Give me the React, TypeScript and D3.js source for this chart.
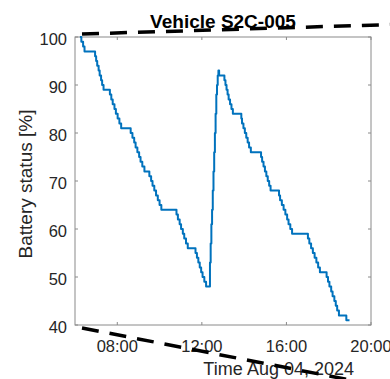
import React, { useEffect, useRef } from 'react';
import * as d3 from 'd3';

// Battery readings, Aug 04 2024
const times = [
  '06:14', '06:18', '06:23', '06:27', '06:57', '07:00', '07:03', '07:07', '07:10', '07:14',
  '07:17', '07:21', '07:39', '07:43', '07:47', '07:52', '07:56', '08:01', '08:06', '08:11',
  '08:38', '08:43', '08:48', '08:52', '08:57', '09:02', '09:06', '09:11', '09:17', '09:31',
  '09:36', '09:40', '09:45', '09:50', '09:55', '10:00', '10:05', '10:48', '10:52', '10:57',
  '11:01', '11:06', '11:10', '11:15', '11:20', '11:42', '11:46', '11:50', '11:54', '11:58',
  '12:02', '12:07', '12:12', '12:21', '12:23', '12:25', '12:27', '12:29', '12:31', '12:33',
  '12:35', '12:37', '12:39', '12:41', '12:43', '12:45', '12:47', '12:49', '13:04', '13:07',
  '13:10', '13:13', '13:16', '13:20', '13:24', '13:28', '13:33', '13:52', '13:54', '13:58',
  '14:02', '14:06', '14:10', '14:14', '14:19', '14:24', '14:48', '14:51', '14:55', '14:59',
  '15:03', '15:07', '15:11', '15:15', '15:20', '15:39', '15:42', '15:47', '15:52', '15:57',
  '16:02', '16:06', '16:11', '16:16', '16:21', '17:01', '17:05', '17:10', '17:15', '17:20',
  '17:25', '17:30', '17:35', '17:40', '17:54', '17:58', '18:02', '18:07', '18:11', '18:16',
  '18:20', '18:24', '18:29', '18:34', '18:50', '18:53', '18:59',
];
const battery = [
  100, 99, 98, 97, 96, 95, 94, 93, 92, 91,
  90, 89, 88, 87, 86, 85, 84, 83, 82, 81,
  80, 79, 78, 77, 76, 75, 74, 73, 72, 71,
  70, 69, 68, 67, 66, 65, 64, 63, 62, 61,
  60, 59, 58, 57, 56, 55, 54, 53, 52, 51,
  50, 49, 48, 48, 53, 57, 61, 64, 68, 72,
  76, 80, 84, 88, 90, 92, 93, 92, 91, 90,
  89, 88, 87, 86, 85, 84, 84, 83, 82, 81,
  80, 79, 78, 77, 76, 76, 75, 74, 73, 72,
  71, 70, 69, 68, 68, 67, 66, 65, 64, 63,
  62, 61, 60, 59, 59, 58, 57, 56, 55, 54,
  53, 52, 51, 51, 50, 49, 48, 47, 46, 45,
  44, 43, 42, 42, 41, 41, 41,
];
const timeDomain = ['06:00', '20:00'];
const yTicks = [40, 50, 60, 70, 80, 90, 100];

function App() {
  const ref = useRef<SVGSVGElement | null>(null);

  useEffect(() => {
    if (!ref.current) return;
    const W = 390, H = 379;
    const margin = { top: 37, right: 19, bottom: 54, left: 75 };
    const width = W - margin.left - margin.right,
      height = H - margin.top - margin.bottom;
    const font = '"Liberation Sans", Arial, Helvetica, sans-serif';
    const ink = '#262626';

    const parse = d3.timeParse('%H:%M');
    const data = times.map((t, i) => ({ t: parse(t) as Date, v: battery[i] }));

    const svg = d3.select(ref.current).html('');
    const g = svg.append('g').attr('transform', `translate(${margin.left},${margin.top})`);

    const x = d3.scaleTime()
      .domain(timeDomain.map(d => parse(d) as Date))
      .range([0, width]);
    const y = d3.scaleLinear().domain([40, 100]).range([height, 0]);

    // box
    g.append('rect')
      .attr('x', 0).attr('y', 0)
      .attr('width', width).attr('height', height)
      .attr('fill', 'white')
      .attr('stroke', '#8a8a8a')
      .attr('stroke-width', 1);

    // x axis (ticks inside, mirrored on top)
    const xt = x.ticks(d3.timeHour.every(4) as d3.TimeInterval);
    const fmt = d3.timeFormat('%H:%M');
    g.append('g').selectAll('line.xb').data(xt).join('line')
      .attr('x1', d => x(d)).attr('x2', d => x(d))
      .attr('y1', height).attr('y2', height - 3)
      .attr('stroke', '#8a8a8a');
    g.append('g').selectAll('line.xt').data(xt).join('line')
      .attr('x1', d => x(d)).attr('x2', d => x(d))
      .attr('y1', 0).attr('y2', 3)
      .attr('stroke', '#8a8a8a');
    g.append('g').selectAll('text').data(xt).join('text')
      .attr('x', d => x(d)).attr('y', height + 27)
      .attr('text-anchor', 'middle')
      .attr('font-family', font).attr('font-size', 16.5)
      .attr('fill', ink)
      .text(d => fmt(d));

    // y axis
    g.append('g').selectAll('line.yl').data(yTicks).join('line')
      .attr('x1', 0).attr('x2', 3)
      .attr('y1', d => y(d)).attr('y2', d => y(d))
      .attr('stroke', '#8a8a8a');
    g.append('g').selectAll('line.yr').data(yTicks).join('line')
      .attr('x1', width).attr('x2', width - 3)
      .attr('y1', d => y(d)).attr('y2', d => y(d))
      .attr('stroke', '#8a8a8a');
    g.append('g').selectAll('text').data(yTicks).join('text')
      .attr('x', -8).attr('y', d => y(d) + 8)
      .attr('text-anchor', 'end')
      .attr('font-family', font).attr('font-size', 16.5)
      .attr('fill', ink)
      .text(d => d);

    // battery line
    const line = d3.line<{ t: Date; v: number }>()
      .x(d => x(d.t))
      .y(d => y(d.v))
      .curve(d3.curveStepAfter);
    g.append('path')
      .datum(data)
      .attr('fill', 'none')
      .attr('stroke', '#0072BD')
      .attr('stroke-width', 2)
      .attr('stroke-linejoin', 'round')
      .attr('d', line);

    // labels
    svg.append('text')
      .attr('x', margin.left + width / 2).attr('y', 28)
      .attr('text-anchor', 'middle')
      .attr('font-family', font).attr('font-size', 19).attr('font-weight', 'bold')
      .attr('fill', '#000')
      .text('Vehicle S2C-005');
    svg.append('text')
      .attr('x', margin.left + width / 2).attr('y', 375)
      .attr('text-anchor', 'middle')
      .attr('font-family', font).attr('font-size', 18)
      .attr('fill', ink)
      .text('Time');
    svg.append('text')
      .attr('x', 354).attr('y', 375)
      .attr('text-anchor', 'end')
      .attr('font-family', font).attr('font-size', 18)
      .attr('fill', ink)
      .text('Aug 04, 2024');
    svg.append('text')
      .attr('transform', `translate(32,${margin.top + height / 2 + 3}) rotate(-90)`)
      .attr('text-anchor', 'middle')
      .attr('font-family', font).attr('font-size', 19)
      .attr('fill', ink)
      .text('Battery status [%]');

    // dashed zoom connector lines
    const connectors = [
      { x1: 82, y1: 34, x2: 392, y2: 24.5 },
      { x1: 82, y1: 328, x2: 350, y2: 380 },
    ];
    svg.append('g').selectAll('line').data(connectors).join('line')
      .attr('x1', d => d.x1).attr('y1', d => d.y1)
      .attr('x2', d => d.x2).attr('y2', d => d.y2)
      .attr('stroke', '#000')
      .attr('stroke-width', 3.5)
      .attr('stroke-dasharray', '17 11');
  }, []);

  return (
    <svg
      ref={ref}
      width={390}
      height={379}
      style={{ position: 'absolute', left: 0, top: 0, background: 'white' }}
    />
  );
}

export default App;
